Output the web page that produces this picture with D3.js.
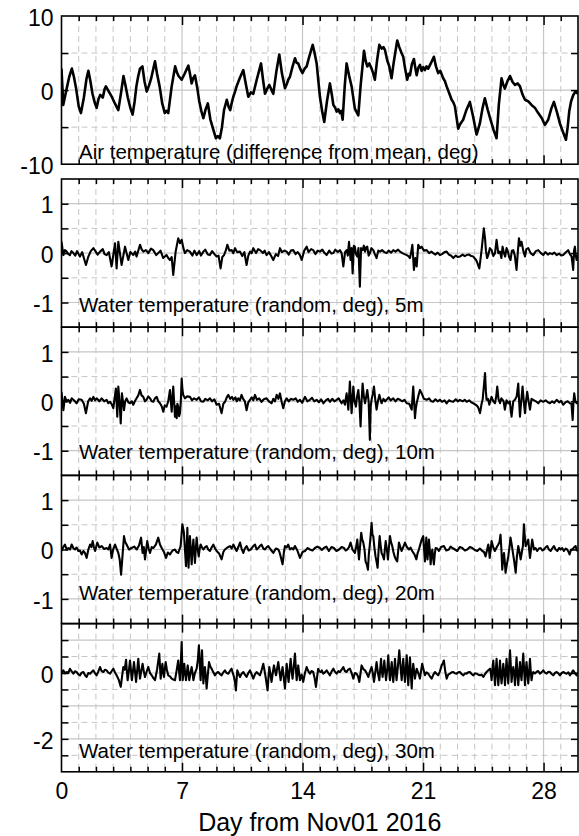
<!DOCTYPE html>
<html><head><meta charset="utf-8">
<script src="https://cdn.jsdelivr.net/npm/d3@7"></script>
<style>
body{margin:0;background:#fff}
svg{display:block}
text{font-family:"Liberation Sans",Arial,Helvetica,sans-serif;fill:#000}
</style>
</head><body>
<svg id="chart" width="579" height="836"></svg>
<script>
// ---------------- DATA ----------------
const xDomain = [0, 30];
const dayTicks = [0, 7, 14, 21, 28];
const dayTickLabels = ["0", "7", "14", "21", "28"];
const xTitle = "Day from Nov01 2016";

const panelTitles = [
  "Air temperature (difference from mean, deg)",
  "Water temperature (random, deg), 5m",
  "Water temperature (random, deg), 10m",
  "Water temperature (random, deg), 20m",
  "Water temperature (random, deg), 30m"
];

const yDomains = [[-10, 10], [-1.5, 1.5], [-1.5, 1.5], [-1.5, 1.5], [-3, 1.5]];
const yLabelVals = [[10, 0, -10], [1, 0, -1], [1, 0, -1], [1, 0, -1], [0, -2]];
const yLabelText = [["10", "0", "-10"], ["1", "0", "-1"], ["1", "0", "-1"], ["1", "0", "-1"], ["0", "-2"]];
const yTickVals = [
  [-5, 0, 5],
  [-1, -0.5, 0, 0.5, 1],
  [-1, -0.5, 0, 0.5, 1],
  [-1, -0.5, 0, 0.5, 1],
  [-2.5, -2, -1.5, -1, -0.5, 0, 0.5, 1]
];
const yMajorGrid = [[0], [-1, 0, 1], [-1, 0, 1], [-1, 0, 1], [1, 0, -1, -2]];
const yMinorGrid = [[-5, 5], [-0.5, 0.5], [-0.5, 0.5], [-0.5, 0.5], [0.5, -0.5, -1.5, -2.5]];

// [day, value]
const airTemp = [[0,2.9],[0.1,-2.0],[0.3,0.2],[0.45,1.8],[0.6,2.9],[0.72,1.8],[0.85,0.2],[1.0,-2.2],[1.13,-3.1],[1.3,-1.0],[1.45,1.5],[1.56,2.6],[1.68,1.2],[1.8,-0.5],[1.92,-1.6],[2.04,-2.4],[2.15,-1.2],[2.25,-0.65],[2.4,-1.0],[2.5,0.1],[2.58,0.5],[2.7,0.0],[2.9,-0.8],[3.1,-1.8],[3.3,-2.7],[3.45,-0.5],[3.6,1.9],[3.72,0.6],[3.85,-1.0],[4.0,-2.4],[4.13,-3.3],[4.25,-1.5],[4.35,0.5],[4.45,1.8],[4.56,2.9],[4.7,3.2],[4.82,1.2],[4.95,-0.2],[5.08,0.6],[5.2,1.5],[5.43,3.9],[5.55,2.2],[5.7,0.5],[5.85,-1.8],[6.0,-3.1],[6.1,-2.8],[6.2,-3.1],[6.4,0.5],[6.6,3.2],[6.7,2.4],[6.8,1.9],[6.98,1.4],[7.15,2.2],[7.37,3.3],[7.47,2.1],[7.56,0.9],[7.65,1.6],[7.75,2.0],[7.88,0.4],[8.0,-1.5],[8.12,-2.8],[8.24,-3.8],[8.37,-2.6],[8.5,-1.8],[8.65,-4.0],[8.8,-5.2],[8.97,-6.5],[9.08,-6.2],[9.2,-6.5],[9.32,-5.0],[9.44,-2.7],[9.6,-1.3],[9.7,-2.2],[9.8,-2.7],[9.9,-1.6],[9.98,-0.9],[10.08,-0.2],[10.17,0.5],[10.35,1.6],[10.56,2.7],[10.7,0.9],[10.85,-0.9],[11.0,-0.3],[11.14,-0.5],[11.35,1.5],[11.59,3.6],[11.7,1.5],[11.82,-0.5],[11.95,0.2],[12.07,0.7],[12.2,0.0],[12.3,-0.5],[12.48,2.5],[12.65,4.8],[12.8,2.3],[12.98,0.25],[13.1,0.9],[13.17,1.4],[13.27,1.8],[13.4,3.0],[13.56,4.3],[13.65,3.7],[13.75,3.6],[13.88,2.8],[14.0,2.3],[14.12,2.9],[14.24,3.2],[14.4,4.6],[14.59,6.1],[14.7,5.0],[14.82,3.6],[15.01,-0.9],[15.15,-3.0],[15.26,-4.3],[15.42,-1.5],[15.59,0.9],[15.7,-0.6],[15.79,-2.0],[15.9,-2.4],[15.98,-2.9],[16.08,-2.6],[16.17,-3.1],[16.25,-2.8],[16.33,-4.0],[16.45,0.5],[16.56,3.6],[16.7,2.0],[16.85,0.5],[17.04,-2.5],[17.15,-3.0],[17.24,-3.4],[17.37,0.5],[17.57,5.3],[17.66,4.0],[17.76,3.2],[17.88,3.6],[18.01,2.9],[18.1,2.3],[18.2,1.4],[18.33,4.0],[18.46,6.1],[18.6,5.6],[18.7,5.8],[18.79,5.4],[18.92,4.0],[19.04,3.2],[19.17,1.6],[19.3,3.8],[19.5,6.7],[19.62,5.8],[19.75,5.0],[19.85,4.5],[19.95,3.0],[20.08,1.4],[20.16,2.2],[20.24,2.0],[20.35,3.5],[20.47,4.2],[20.55,3.0],[20.63,2.0],[20.72,3.0],[20.82,3.4],[20.92,2.6],[21.01,3.1],[21.11,2.7],[21.2,3.2],[21.3,2.9],[21.45,3.6],[21.63,4.5],[21.75,3.2],[21.88,2.3],[22.0,2.6],[22.17,1.6],[22.27,1.2],[22.37,0.5],[22.5,-0.3],[22.66,-1.3],[22.75,-1.6],[22.85,-2.2],[23.04,-5.2],[23.15,-4.6],[23.33,-4.0],[23.5,-2.8],[23.72,-1.6],[23.9,-3.5],[24.11,-6.0],[24.2,-5.3],[24.3,-4.5],[24.45,-2.5],[24.59,-1.1],[24.75,-2.6],[24.92,-4.0],[25.1,-5.4],[25.27,-6.5],[25.4,-2.0],[25.56,1.6],[25.65,0.8],[25.75,0.2],[25.9,1.2],[26.05,1.9],[26.2,1.1],[26.34,0.7],[26.5,0.9],[26.63,0.5],[26.78,-0.6],[26.92,-1.3],[27.1,-1.5],[27.3,-2.0],[27.5,-2.4],[27.69,-3.1],[27.9,-3.8],[28.08,-4.7],[28.27,-4.0],[28.45,-2.5],[28.6,-1.6],[28.78,-3.0],[28.95,-4.5],[29.12,-5.6],[29.3,-6.7],[29.4,-5.0],[29.49,-2.9],[29.6,-1.5],[29.72,-0.7],[29.85,-0.2],[30.0,-0.5]];

const water5m = [[0,0.23],[0.11,-0.04],[0.2,0.06],[0.3,0.03],[0.4,-0.02],[0.49,-0.04],[0.58,0.04],[0.69,0.0],[0.8,-0.05],[0.9,0.04],[1.07,-0.07],[1.2,0.02],[1.3,-0.1],[1.42,-0.24],[1.56,-0.07],[1.7,0.04],[1.85,0.10],[1.95,0.05],[2.1,-0.03],[2.24,0.03],[2.4,0.08],[2.5,-0.02],[2.62,-0.04],[2.75,0.02],[2.91,-0.27],[3.11,0.20],[3.2,-0.31],[3.3,0.23],[3.49,-0.24],[3.69,0.13],[3.88,-0.14],[4.0,0.02],[4.17,-0.04],[4.28,0.03],[4.36,-0.07],[4.56,0.17],[4.65,0.08],[4.75,0.03],[4.9,0.06],[5.04,0.0],[5.2,0.09],[5.33,0.06],[5.5,-0.04],[5.62,0.0],[5.75,0.05],[5.91,-0.1],[6.1,-0.04],[6.2,-0.1],[6.3,-0.14],[6.4,-0.08],[6.49,-0.44],[6.63,0.03],[6.78,0.3],[6.88,0.2],[6.98,0.27],[7.08,0.1],[7.17,0.0],[7.3,0.06],[7.46,0.03],[7.6,-0.05],[7.72,0.05],[7.85,-0.04],[8.0,0.04],[8.1,-0.05],[8.24,0.03],[8.35,0.07],[8.5,-0.03],[8.62,-0.04],[8.75,0.04],[8.88,-0.02],[9.01,-0.07],[9.12,-0.05],[9.24,-0.31],[9.34,-0.08],[9.44,-0.04],[9.55,0.06],[9.63,0.17],[9.75,0.05],[9.88,0.06],[9.98,0.0],[10.08,0.1],[10.2,0.02],[10.37,0.03],[10.5,-0.06],[10.62,0.02],[10.75,-0.24],[10.85,-0.05],[10.95,0.03],[11.05,0.0],[11.14,0.1],[11.3,0.0],[11.42,0.08],[11.53,0.06],[11.7,0.0],[11.8,0.05],[11.91,-0.04],[12.05,0.02],[12.18,-0.06],[12.3,-0.14],[12.45,-0.02],[12.58,-0.06],[12.69,0.1],[12.8,0.02],[12.95,0.05],[13.08,0.03],[13.2,-0.03],[13.32,0.05],[13.46,0.06],[13.6,-0.02],[13.72,0.02],[13.85,-0.04],[13.95,-0.14],[14.1,0.05],[14.24,0.13],[14.35,0.02],[14.5,0.08],[14.62,0.06],[14.75,-0.02],[14.88,0.05],[15.01,0.03],[15.15,0.07],[15.28,0.0],[15.4,-0.04],[15.55,0.05],[15.68,-0.01],[15.79,0.0],[15.9,0.07],[16.05,0.02],[16.17,0.06],[16.27,0.0],[16.37,-0.27],[16.47,0.02],[16.56,0.06],[16.63,-0.05],[16.7,0.23],[16.79,-0.14],[16.85,0.1],[16.91,-0.41],[16.98,0.15],[17.04,0.13],[17.1,-0.02],[17.18,-0.07],[17.25,0.1],[17.33,-0.68],[17.4,0.1],[17.49,0.06],[17.56,0.15],[17.63,0.03],[17.7,0.12],[17.76,0.13],[17.84,-0.05],[17.91,0.0],[18.0,0.1],[18.11,0.06],[18.2,-0.02],[18.3,-0.1],[18.4,0.05],[18.5,0.03],[18.62,0.06],[18.75,0.02],[18.88,0.0],[19.0,0.05],[19.15,0.01],[19.27,0.06],[19.4,0.03],[19.55,0.07],[19.66,0.03],[19.8,0.0],[19.92,-0.02],[20.05,-0.04],[20.15,-0.06],[20.24,-0.1],[20.3,0.0],[20.38,0.17],[20.47,-0.34],[20.55,-0.1],[20.63,-0.27],[20.72,0.17],[20.82,0.1],[20.92,0.13],[21.05,0.05],[21.21,0.06],[21.35,0.0],[21.48,0.03],[21.59,0.0],[21.72,-0.03],[21.85,0.01],[21.98,-0.04],[22.1,-0.02],[22.25,0.02],[22.37,0.03],[22.5,-0.03],[22.62,-0.05],[22.76,-0.1],[22.9,-0.05],[23.02,-0.08],[23.14,-0.07],[23.3,-0.03],[23.42,-0.06],[23.53,-0.04],[23.68,-0.03],[23.8,-0.06],[23.92,-0.07],[24.1,-0.15],[24.27,-0.31],[24.4,0.06],[24.53,0.5],[24.6,0.3],[24.65,0.06],[24.72,-0.1],[24.79,-0.04],[24.88,0.1],[24.98,0.06],[25.08,-0.06],[25.18,0.0],[25.27,0.27],[25.37,0.0],[25.47,0.03],[25.55,-0.1],[25.62,0.13],[25.7,0.0],[25.77,-0.07],[25.85,0.1],[25.93,0.03],[26.0,-0.08],[26.08,-0.14],[26.16,0.05],[26.24,0.06],[26.33,-0.05],[26.43,-0.34],[26.5,0.0],[26.57,0.3],[26.65,0.15],[26.72,0.23],[26.82,0.05],[26.92,-0.07],[27.0,0.08],[27.11,0.1],[27.25,0.0],[27.4,-0.04],[27.55,0.04],[27.69,0.06],[27.85,0.0],[27.98,-0.04],[28.1,0.02],[28.25,-0.03],[28.37,0.0],[28.5,-0.02],[28.62,0.01],[28.76,-0.04],[28.9,-0.01],[29.02,-0.05],[29.14,-0.04],[29.28,0.01],[29.43,0.06],[29.53,-0.02],[29.63,-0.07],[29.72,-0.34],[29.77,0.05],[29.82,0.13],[29.87,-0.05],[29.92,-0.14],[30.0,-0.04]];

const water10m = [[0,0.19],[0.11,-0.18],[0.2,0.09],[0.3,0.0],[0.4,0.03],[0.5,-0.03],[0.59,0.06],[0.72,0.02],[0.88,-0.04],[1.0,0.04],[1.17,0.03],[1.3,-0.05],[1.42,-0.24],[1.55,0.0],[1.66,0.06],[1.75,0.01],[1.85,0.09],[1.95,0.02],[2.04,0.06],[2.2,0.0],[2.33,0.06],[2.48,0.0],[2.62,0.03],[2.72,-0.04],[2.82,-0.01],[2.92,-0.06],[3.01,-0.14],[3.08,0.05],[3.16,0.26],[3.24,-0.31],[3.3,0.3],[3.37,0.0],[3.44,-0.45],[3.51,0.16],[3.57,0.0],[3.63,-0.18],[3.7,0.0],[3.78,0.06],[3.88,-0.02],[3.98,-0.04],[4.08,0.0],[4.17,-0.07],[4.26,0.0],[4.36,0.06],[4.46,0.12],[4.56,0.23],[4.65,0.12],[4.75,0.09],[4.85,0.0],[4.94,0.03],[5.04,0.1],[5.14,0.06],[5.24,0.0],[5.33,-0.01],[5.43,0.06],[5.53,0.09],[5.62,0.0],[5.72,-0.04],[5.82,-0.1],[5.91,-0.21],[6.0,-0.08],[6.1,-0.11],[6.2,0.0],[6.3,0.23],[6.35,0.0],[6.4,-0.21],[6.45,0.1],[6.49,0.3],[6.54,0.0],[6.59,-0.31],[6.64,-0.1],[6.69,-0.34],[6.73,-0.05],[6.78,-0.11],[6.83,-0.3],[6.88,-0.24],[6.93,0.0],[6.98,0.46],[7.02,0.25],[7.07,0.13],[7.17,0.06],[7.3,0.1],[7.46,0.09],[7.58,0.02],[7.7,0.06],[7.85,0.03],[7.98,0.08],[8.1,0.0],[8.24,-0.01],[8.35,0.05],[8.5,0.02],[8.62,0.06],[8.75,0.0],[8.88,0.04],[9.01,-0.07],[9.15,-0.05],[9.3,-0.24],[9.4,-0.05],[9.5,-0.01],[9.6,0.08],[9.69,0.13],[9.8,0.05],[9.9,0.09],[9.98,0.03],[10.1,0.08],[10.18,0.0],[10.27,0.06],[10.36,0.02],[10.46,0.13],[10.55,0.05],[10.65,0.0],[10.75,-0.18],[10.85,-0.02],[10.95,0.03],[11.05,0.08],[11.14,0.02],[11.24,0.13],[11.35,0.03],[11.48,0.06],[11.62,-0.01],[11.75,0.04],[11.91,0.06],[12.05,0.0],[12.2,-0.04],[12.3,0.05],[12.4,0.0],[12.5,0.13],[12.6,0.05],[12.69,0.16],[12.78,0.0],[12.88,-0.14],[12.98,0.0],[13.08,0.06],[13.2,0.0],[13.32,0.05],[13.46,0.03],[13.6,0.06],[13.72,-0.01],[13.85,0.03],[13.98,-0.03],[14.14,0.09],[14.28,0.0],[14.43,0.03],[14.55,0.07],[14.68,0.0],[14.82,0.03],[14.95,-0.02],[15.08,0.04],[15.21,-0.04],[15.35,0.02],[15.48,0.05],[15.59,-0.01],[15.72,0.05],[15.85,0.0],[15.98,0.03],[16.1,0.06],[16.2,0.0],[16.27,-0.04],[16.38,0.02],[16.46,-0.07],[16.56,0.16],[16.66,-0.17],[16.75,0.4],[16.85,-0.24],[16.95,0.3],[17.02,0.0],[17.1,-0.11],[17.17,0.1],[17.24,0.23],[17.3,0.0],[17.37,-0.51],[17.43,0.0],[17.49,0.36],[17.56,0.1],[17.63,-0.04],[17.7,0.1],[17.76,0.23],[17.84,0.0],[17.91,-0.78],[17.96,-0.1],[18.01,0.03],[18.08,0.15],[18.15,0.3],[18.22,0.05],[18.3,-0.17],[18.38,0.0],[18.46,0.13],[18.52,0.05],[18.59,-0.04],[18.7,0.05],[18.8,0.0],[18.88,0.03],[19.0,0.08],[19.12,0.02],[19.27,0.06],[19.4,0.0],[19.52,0.05],[19.66,0.03],[19.8,0.0],[19.92,0.03],[20.05,-0.04],[20.2,-0.05],[20.34,-0.17],[20.38,0.05],[20.43,0.3],[20.48,0.0],[20.53,-0.34],[20.58,-0.15],[20.63,-0.04],[20.72,0.1],[20.82,0.23],[20.92,0.16],[21.05,0.05],[21.21,0.03],[21.35,0.06],[21.48,0.0],[21.59,-0.01],[21.72,0.04],[21.85,0.0],[21.98,0.03],[22.1,-0.01],[22.25,0.02],[22.37,-0.04],[22.5,0.02],[22.62,0.0],[22.76,-0.01],[22.9,0.04],[23.02,0.0],[23.14,0.03],[23.3,0.0],[23.42,0.03],[23.53,-0.01],[23.68,0.02],[23.8,-0.02],[23.92,-0.04],[24.1,-0.08],[24.2,-0.12],[24.31,-0.24],[24.4,-0.05],[24.46,0.03],[24.53,0.3],[24.6,0.57],[24.65,0.2],[24.69,0.03],[24.77,0.05],[24.85,-0.07],[24.92,0.02],[24.98,0.09],[25.08,0.0],[25.18,-0.04],[25.25,0.1],[25.31,0.3],[25.38,0.05],[25.47,-0.04],[25.55,0.06],[25.62,0.03],[25.68,0.0],[25.75,-0.17],[25.85,0.02],[25.95,-0.04],[26.04,0.0],[26.14,-0.31],[26.24,0.0],[26.34,0.03],[26.44,0.1],[26.53,0.36],[26.58,0.0],[26.63,-0.31],[26.7,0.0],[26.78,0.3],[26.85,0.0],[26.92,-0.24],[26.98,0.0],[27.05,0.19],[27.13,0.0],[27.21,-0.17],[27.3,0.05],[27.4,0.03],[27.55,0.0],[27.69,-0.04],[27.83,0.02],[27.98,-0.01],[28.12,0.02],[28.25,-0.02],[28.37,-0.04],[28.5,0.0],[28.62,-0.03],[28.76,0.03],[28.9,-0.02],[29.02,0.01],[29.14,-0.07],[29.28,-0.02],[29.4,0.0],[29.53,-0.04],[29.62,-0.05],[29.69,-0.38],[29.74,0.0],[29.78,0.16],[29.85,0.0],[29.92,-0.04],[30.0,-0.04]];

const water20m = [[0.01,-0.03],[0.1,0.05],[0.2,0.1],[0.3,0.0],[0.4,0.03],[0.5,0.0],[0.59,0.1],[0.7,0.02],[0.78,0.0],[0.88,0.04],[0.98,-0.03],[1.07,-0.02],[1.17,-0.1],[1.27,-0.03],[1.36,-0.07],[1.46,-0.17],[1.56,0.0],[1.66,0.1],[1.74,0.05],[1.81,0.17],[1.88,0.05],[1.95,-0.03],[2.08,0.14],[2.2,0.04],[2.33,0.07],[2.48,0.01],[2.62,0.03],[2.72,0.0],[2.82,0.1],[2.91,-0.17],[3.0,0.0],[3.11,0.1],[3.2,0.02],[3.3,-0.07],[3.38,-0.2],[3.46,-0.51],[3.55,-0.1],[3.63,0.27],[3.7,0.15],[3.78,0.1],[3.92,0.0],[4.07,0.03],[4.22,0.06],[4.37,0.0],[4.5,0.08],[4.62,0.24],[4.71,-0.07],[4.78,0.05],[4.85,-0.2],[4.98,0.17],[5.06,0.02],[5.14,-0.07],[5.24,0.05],[5.33,0.03],[5.48,0.1],[5.62,0.24],[5.72,0.1],[5.82,0.03],[5.95,-0.05],[6.07,-0.17],[6.18,-0.06],[6.3,-0.1],[6.45,-0.02],[6.59,0.0],[6.68,-0.05],[6.78,-0.07],[6.85,0.0],[6.92,0.07],[7.02,0.51],[7.11,0.34],[7.17,0.0],[7.23,-0.34],[7.27,0.0],[7.31,0.44],[7.34,0.0],[7.38,-0.37],[7.42,0.0],[7.46,0.27],[7.51,0.0],[7.56,-0.3],[7.61,0.0],[7.66,0.2],[7.7,0.0],[7.75,-0.27],[7.8,0.0],[7.85,0.24],[7.9,0.05],[7.97,-0.14],[8.02,0.0],[8.08,0.1],[8.16,0.04],[8.24,0.0],[8.34,0.05],[8.43,0.07],[8.52,0.0],[8.62,-0.03],[8.72,0.04],[8.82,0.1],[8.92,0.02],[9.01,-0.03],[9.15,-0.08],[9.3,-0.2],[9.4,-0.05],[9.49,0.0],[9.64,0.04],[9.79,0.07],[9.88,0.02],[9.98,0.1],[10.08,0.03],[10.17,-0.03],[10.27,0.05],[10.37,0.14],[10.46,0.02],[10.56,-0.07],[10.65,0.02],[10.75,0.07],[10.87,-0.02],[10.99,0.0],[11.12,0.06],[11.24,0.1],[11.33,0.0],[11.43,0.03],[11.52,0.07],[11.62,0.1],[11.72,0.02],[11.82,0.0],[11.92,0.05],[12.01,0.07],[12.15,0.0],[12.3,-0.07],[12.45,0.02],[12.59,0.0],[12.66,-0.05],[12.73,-0.14],[12.84,-0.3],[12.92,-0.05],[12.98,0.07],[13.08,0.04],[13.17,0.1],[13.27,0.0],[13.37,0.03],[13.46,0.0],[13.56,0.07],[13.7,-0.02],[13.85,-0.17],[14.0,-0.05],[14.14,-0.03],[14.3,0.03],[14.43,0.0],[14.58,-0.02],[14.72,0.03],[14.86,0.06],[15.01,0.03],[15.12,-0.01],[15.24,0.03],[15.38,0.06],[15.53,-0.03],[15.68,0.05],[15.82,0.03],[15.97,-0.03],[16.12,0.0],[16.27,0.05],[16.41,0.03],[16.5,-0.02],[16.6,0.0],[16.7,0.05],[16.79,0.14],[16.9,0.0],[17.04,-0.07],[17.11,0.05],[17.18,0.2],[17.23,0.0],[17.28,-0.2],[17.35,0.1],[17.41,0.34],[17.47,0.2],[17.53,0.14],[17.6,0.0],[17.66,-0.24],[17.73,-0.3],[17.8,-0.41],[17.85,-0.1],[17.9,0.07],[17.96,0.3],[18.01,0.54],[18.06,0.3],[18.11,0.27],[18.17,0.05],[18.24,-0.14],[18.3,-0.25],[18.36,-0.37],[18.42,0.0],[18.48,0.27],[18.53,0.1],[18.59,-0.07],[18.66,-0.12],[18.73,-0.2],[18.78,0.0],[18.83,0.17],[18.9,0.0],[18.96,-0.2],[19.02,0.05],[19.08,0.27],[19.14,0.15],[19.21,0.07],[19.28,-0.05],[19.35,-0.14],[19.42,-0.2],[19.5,-0.24],[19.55,-0.05],[19.6,0.14],[19.68,0.05],[19.75,-0.03],[19.85,0.05],[19.95,0.14],[20.06,0.05],[20.18,0.0],[20.27,0.04],[20.37,-0.03],[20.5,-0.1],[20.61,-0.2],[20.68,-0.08],[20.76,0.0],[20.84,0.1],[20.92,0.2],[21.01,0.27],[21.06,0.0],[21.11,-0.24],[21.15,0.0],[21.19,0.24],[21.22,0.0],[21.26,-0.2],[21.3,0.0],[21.34,0.2],[21.39,0.0],[21.44,-0.3],[21.49,-0.1],[21.54,0.0],[21.58,-0.15],[21.63,-0.3],[21.68,-0.1],[21.73,0.03],[21.82,0.02],[21.92,-0.03],[22.05,0.05],[22.21,0.07],[22.35,-0.02],[22.5,0.0],[22.6,0.06],[22.7,0.03],[22.85,0.0],[22.99,-0.03],[23.13,0.05],[23.28,0.03],[23.43,-0.02],[23.57,0.0],[23.72,0.05],[23.86,0.03],[24.0,-0.01],[24.15,-0.03],[24.3,0.02],[24.44,-0.03],[24.54,-0.05],[24.63,-0.14],[24.71,-0.02],[24.79,0.1],[24.83,0.0],[24.87,-0.17],[24.93,0.0],[24.98,0.17],[25.07,0.05],[25.17,-0.03],[25.27,0.04],[25.37,0.1],[25.44,0.15],[25.5,0.3],[25.55,0.0],[25.6,-0.41],[25.65,-0.2],[25.7,-0.07],[25.75,-0.25],[25.79,-0.47],[25.87,-0.3],[25.95,-0.14],[26.02,0.05],[26.08,0.24],[26.15,0.1],[26.22,-0.07],[26.3,-0.25],[26.38,-0.47],[26.45,-0.15],[26.53,0.07],[26.6,-0.05],[26.67,-0.2],[26.74,-0.05],[26.8,0.07],[26.83,0.3],[26.86,0.51],[26.9,0.3],[26.96,0.07],[27.03,0.12],[27.11,0.2],[27.16,0.0],[27.21,-0.17],[27.27,0.0],[27.34,0.2],[27.39,0.1],[27.44,0.0],[27.53,0.03],[27.63,-0.03],[27.73,0.02],[27.83,0.03],[27.93,-0.02],[28.02,0.0],[28.11,0.04],[28.21,0.07],[28.31,0.0],[28.41,-0.03],[28.5,0.02],[28.6,0.07],[28.7,0.0],[28.8,-0.03],[28.9,0.03],[28.99,0.0],[29.08,0.03],[29.18,-0.03],[29.28,0.02],[29.37,0.0],[29.44,-0.04],[29.51,-0.1],[29.6,0.0],[29.67,0.0],[29.76,0.04],[29.86,0.07],[29.93,-0.02],[30.0,0.0]];

const water30m = [[0,0],[0.11,0.08],[0.2,-0.01],[0.3,0.03],[0.4,0.0],[0.49,0.13],[0.6,0.04],[0.69,-0.02],[0.78,0.05],[0.88,0.03],[0.98,-0.04],[1.07,-0.07],[1.17,0.01],[1.27,0.03],[1.36,-0.06],[1.46,-0.12],[1.56,0.0],[1.66,-0.02],[1.75,0.03],[1.85,0.08],[1.95,-0.01],[2.04,-0.07],[2.14,0.05],[2.24,0.18],[2.33,0.06],[2.43,0.03],[2.53,0.1],[2.62,0.08],[2.72,0.01],[2.82,-0.02],[2.92,0.06],[3.01,0.13],[3.1,0.02],[3.2,-0.07],[3.32,-0.2],[3.44,-0.42],[3.52,-0.1],[3.59,0.18],[3.67,0.1],[3.75,0.4],[3.79,0.1],[3.84,-0.22],[3.91,0.05],[3.98,0.38],[4.04,0.05],[4.09,-0.22],[4.15,0.05],[4.21,0.33],[4.27,0.05],[4.33,-0.27],[4.4,0.1],[4.46,0.43],[4.51,0.1],[4.56,-0.17],[4.63,0.05],[4.71,0.28],[4.78,0.05],[4.85,-0.12],[4.95,0.05],[5.04,0.18],[5.14,0.0],[5.24,-0.07],[5.33,-0.15],[5.43,-0.22],[5.55,0.1],[5.68,0.59],[5.72,0.2],[5.76,-0.17],[5.81,0.05],[5.86,0.28],[5.9,0.05],[5.95,-0.12],[6.0,0.1],[6.05,0.33],[6.12,0.1],[6.2,-0.07],[6.3,-0.1],[6.4,-0.17],[6.5,-0.2],[6.59,-0.22],[6.68,0.05],[6.78,0.38],[6.83,0.05],[6.88,-0.22],[6.93,0.3],[6.98,0.94],[7.01,0.3],[7.04,-0.22],[7.08,0.0],[7.13,0.28],[7.18,0.0],[7.23,-0.22],[7.28,0.0],[7.33,0.23],[7.38,0.0],[7.42,-0.22],[7.49,0.0],[7.56,0.18],[7.61,0.0],[7.66,-0.22],[7.75,0.0],[7.85,0.13],[7.92,0.4],[7.98,0.84],[8.03,0.3],[8.08,-0.22],[8.12,0.2],[8.16,0.69],[8.2,0.2],[8.24,-0.32],[8.28,-0.05],[8.33,0.18],[8.38,-0.1],[8.43,-0.47],[8.5,-0.05],[8.57,0.33],[8.64,0.2],[8.72,0.13],[8.82,0.02],[8.91,-0.07],[9.0,0.0],[9.1,0.03],[9.2,-0.03],[9.3,-0.07],[9.4,0.02],[9.49,0.08],[9.59,0.0],[9.69,-0.02],[9.78,0.06],[9.88,0.13],[9.95,0.0],[10.02,-0.12],[10.08,-0.3],[10.13,-0.53],[10.17,-0.2],[10.21,0.08],[10.29,-0.03],[10.37,-0.12],[10.46,-0.02],[10.56,0.03],[10.65,-0.05],[10.75,-0.12],[10.85,0.0],[10.95,0.08],[11.05,-0.05],[11.14,-0.17],[11.23,-0.05],[11.33,0.03],[11.43,-0.02],[11.53,-0.07],[11.63,0.1],[11.72,0.28],[11.8,0.05],[11.87,-0.17],[11.92,-0.35],[11.97,-0.53],[12.02,-0.15],[12.07,0.18],[12.14,-0.05],[12.2,-0.27],[12.27,0.0],[12.34,0.23],[12.4,0.08],[12.46,-0.07],[12.52,0.12],[12.59,0.33],[12.66,0.05],[12.73,-0.22],[12.78,0.0],[12.84,0.18],[12.91,-0.15],[12.98,-0.47],[13.03,-0.1],[13.08,0.28],[13.13,0.0],[13.19,-0.27],[13.25,0.1],[13.31,0.43],[13.36,0.1],[13.42,-0.17],[13.49,0.2],[13.56,0.59],[13.61,0.15],[13.66,-0.22],[13.7,0.0],[13.75,0.23],[13.8,0.0],[13.85,-0.22],[13.95,-0.05],[14.04,-0.27],[14.14,0.0],[14.24,0.18],[14.34,0.05],[14.43,-0.02],[14.52,0.06],[14.62,0.03],[14.7,-0.15],[14.78,-0.42],[14.85,-0.1],[14.91,0.13],[14.98,0.05],[15.05,0.03],[15.12,0.08],[15.2,-0.02],[15.3,0.02],[15.4,0.08],[15.5,0.0],[15.59,-0.07],[15.69,0.05],[15.79,0.13],[15.88,0.04],[15.98,-0.02],[16.08,0.06],[16.17,0.03],[16.27,0.1],[16.37,0.18],[16.46,0.06],[16.56,0.03],[16.65,0.1],[16.75,0.13],[16.85,0.0],[16.95,-0.17],[17.04,0.0],[17.14,-0.02],[17.22,-0.1],[17.3,-0.27],[17.37,0.0],[17.43,0.23],[17.53,0.12],[17.63,0.08],[17.72,0.0],[17.82,-0.12],[17.92,0.05],[18.01,0.18],[18.08,0.0],[18.15,-0.27],[18.22,0.0],[18.3,0.33],[18.38,0.0],[18.46,-0.22],[18.51,0.1],[18.56,0.43],[18.6,0.1],[18.65,-0.12],[18.7,0.1],[18.75,0.38],[18.8,0.05],[18.85,-0.22],[18.92,0.1],[18.98,0.54],[19.03,0.1],[19.08,-0.22],[19.13,0.05],[19.18,0.33],[19.22,0.0],[19.27,-0.27],[19.32,0.05],[19.37,0.43],[19.42,0.05],[19.46,-0.22],[19.54,0.2],[19.62,0.69],[19.69,0.2],[19.76,-0.22],[19.8,0.1],[19.85,0.43],[19.9,0.05],[19.95,-0.27],[20.0,0.1],[20.05,0.54],[20.1,0.05],[20.14,-0.37],[20.19,0.05],[20.24,0.48],[20.29,0.0],[20.34,-0.47],[20.38,-0.05],[20.43,0.28],[20.48,0.05],[20.53,-0.17],[20.58,0.0],[20.63,0.13],[20.72,0.0],[20.82,-0.17],[20.88,0.05],[20.95,0.28],[21.03,0.1],[21.11,-0.07],[21.2,0.02],[21.3,-0.02],[21.4,-0.1],[21.5,-0.17],[21.6,-0.05],[21.69,0.03],[21.78,-0.02],[21.88,-0.07],[21.98,0.05],[22.08,0.23],[22.15,0.3],[22.21,0.38],[22.29,0.05],[22.37,-0.17],[22.46,-0.05],[22.56,-0.02],[22.66,0.02],[22.76,0.03],[22.85,-0.01],[22.95,-0.02],[23.04,0.02],[23.14,0.03],[23.24,-0.03],[23.34,-0.07],[23.44,-0.01],[23.53,-0.02],[23.62,0.02],[23.72,0.03],[23.82,-0.03],[23.92,-0.07],[24.01,-0.01],[24.11,-0.02],[24.21,-0.05],[24.31,-0.07],[24.4,-0.05],[24.5,-0.12],[24.6,-0.03],[24.69,0.03],[24.79,0.08],[24.89,0.13],[24.94,0.0],[24.98,-0.22],[25.03,0.1],[25.08,0.38],[25.13,0.0],[25.18,-0.37],[25.22,0.0],[25.27,0.43],[25.32,0.0],[25.37,-0.37],[25.42,0.0],[25.47,0.38],[25.51,0.0],[25.56,-0.32],[25.61,0.0],[25.66,0.28],[25.71,0.0],[25.76,-0.37],[25.8,0.0],[25.85,0.43],[25.9,0.0],[25.95,-0.32],[26.0,0.2],[26.05,0.69],[26.1,0.2],[26.14,-0.27],[26.19,0.0],[26.24,0.18],[26.29,0.0],[26.34,-0.37],[26.38,0.0],[26.43,0.48],[26.48,0.0],[26.53,-0.37],[26.58,0.0],[26.63,0.33],[26.67,0.0],[26.72,-0.22],[26.77,0.2],[26.82,0.59],[26.87,0.1],[26.92,-0.37],[26.96,0.0],[27.01,0.33],[27.06,0.0],[27.11,-0.32],[27.16,0.0],[27.21,0.43],[27.25,0.1],[27.3,-0.22],[27.35,-0.05],[27.4,0.03],[27.5,-0.01],[27.59,0.03],[27.69,0.06],[27.79,-0.02],[27.88,0.02],[27.98,0.08],[28.08,0.01],[28.18,-0.02],[28.28,0.04],[28.37,0.03],[28.46,-0.02],[28.56,-0.07],[28.66,0.0],[28.76,0.03],[28.86,-0.01],[28.95,-0.07],[29.05,0.0],[29.14,0.03],[29.24,0.0],[29.34,-0.02],[29.44,0.02],[29.53,-0.07],[29.62,0.0],[29.72,0.08],[29.82,0.0],[29.92,-0.07],[30.0,0.03]];

const series = [airTemp, water5m, water10m, water20m, water30m];

// ---------------- LAYOUT / STYLE ----------------
const L = 61.5, R = 578;
const panelTops = [16, 179, 327.2, 475.4, 623.6];
const panelH = 148.2;
const titleOffsets = [4.9, 15.5, 16, 23.6, 13.5]; // baseline distance from panel bottom
const lineWidths = [2.6, 2.1, 2.1, 2.1, 2.1];
const gridColor = "#c6c6c6";
const fontStack = '"Liberation Sans", Arial, Helvetica, sans-serif';

const svg = d3.select("#chart");
const x = d3.scaleLinear().domain(xDomain).range([L, R]);

const allDays = d3.range(1, 30);
const majorDays = allDays.filter(d => d % 7 === 0);
const minorDays = allDays.filter(d => d % 7 !== 0);

series.forEach((data, p) => {
  const top = panelTops[p], bot = top + panelH;
  const y = d3.scaleLinear().domain(yDomains[p]).range([bot, top]);
  const g = svg.append("g");

  const cid = "clip" + p;
  svg.append("clipPath").attr("id", cid).append("rect")
    .attr("x", L).attr("y", top).attr("width", R - L).attr("height", panelH);

  // grid: vertical
  g.append("g").selectAll("line").data(minorDays).join("line")
    .attr("x1", d => x(d)).attr("x2", d => x(d)).attr("y1", top).attr("y2", bot)
    .attr("stroke", gridColor).attr("stroke-width", 1).attr("stroke-dasharray", "6,4");
  g.append("g").selectAll("line").data(majorDays).join("line")
    .attr("x1", d => x(d)).attr("x2", d => x(d)).attr("y1", top).attr("y2", bot)
    .attr("stroke", gridColor).attr("stroke-width", 1.2);
  // grid: horizontal
  g.append("g").selectAll("line").data(yMinorGrid[p]).join("line")
    .attr("x1", L).attr("x2", R).attr("y1", d => y(d)).attr("y2", d => y(d))
    .attr("stroke", gridColor).attr("stroke-width", 1).attr("stroke-dasharray", "6,4");
  g.append("g").selectAll("line").data(yMajorGrid[p]).join("line")
    .attr("x1", L).attr("x2", R).attr("y1", d => y(d)).attr("y2", d => y(d))
    .attr("stroke", gridColor).attr("stroke-width", 1.2);

  // data line
  const line = d3.line().x(d => x(d[0])).y(d => y(d[1]));
  g.append("path").datum(data).attr("d", line)
    .attr("clip-path", `url(#${cid})`)
    .attr("fill", "none").attr("stroke", "#000").attr("stroke-width", lineWidths[p])
    .attr("stroke-linejoin", "round");

  // panel title
  g.append("text").attr("x", 79).attr("y", bot - titleOffsets[p])
    .attr("font-size", 20.5).text(panelTitles[p]);

  // ticks (inward)
  const tickStyle = sel => {
    sel.select(".domain").remove();
    sel.selectAll(".tick line").attr("stroke", "#000").attr("stroke-width", 1.5);
    sel.selectAll("text").remove();
  };
  g.append("g").attr("transform", `translate(0,${bot})`)
    .call(d3.axisBottom(x).tickValues(minorDays).tickSize(-5)).call(tickStyle);
  g.append("g").attr("transform", `translate(0,${bot})`)
    .call(d3.axisBottom(x).tickValues(majorDays).tickSize(-9)).call(tickStyle);
  g.append("g").attr("transform", `translate(0,${top})`)
    .call(d3.axisTop(x).tickValues(minorDays).tickSize(-5)).call(tickStyle);
  g.append("g").attr("transform", `translate(0,${top})`)
    .call(d3.axisTop(x).tickValues(majorDays).tickSize(-9)).call(tickStyle);
  g.append("g").attr("transform", `translate(${L},0)`)
    .call(d3.axisLeft(y).tickValues(yTickVals[p]).tickSize(-7)).call(tickStyle);
  g.append("g").attr("transform", `translate(${R},0)`)
    .call(d3.axisRight(y).tickValues(yTickVals[p]).tickSize(-7)).call(tickStyle);

  // frame
  g.append("rect").attr("x", L).attr("y", top).attr("width", R - L).attr("height", panelH)
    .attr("fill", "none").attr("stroke", "#000").attr("stroke-width", 1.6);

  // y labels
  const ya = g.append("g").attr("transform", `translate(${L},0)`)
    .call(d3.axisLeft(y).tickValues(yLabelVals[p]).tickSize(0).tickPadding(8)
      .tickFormat((d, i) => yLabelText[p][i]));
  ya.select(".domain").remove();
  ya.selectAll("text").attr("font-size", 23).attr("font-family", fontStack)
    .attr("fill", "#000").attr("dy", "0.4em");

  // x labels on last panel
  if (p === series.length - 1) {
    const xa = g.append("g").attr("transform", `translate(0,${bot})`)
      .call(d3.axisBottom(x).tickValues(dayTicks).tickSize(0).tickPadding(11)
        .tickFormat((d, i) => dayTickLabels[i]));
    xa.select(".domain").remove();
    xa.selectAll("text").attr("font-size", 23).attr("font-family", fontStack).attr("fill", "#000");
  }
});

// x-axis title
svg.append("text").attr("x", (L + R) / 2).attr("y", 830.7)
  .attr("text-anchor", "middle").attr("font-size", 25).text(xTitle);
</script>
</body></html>
